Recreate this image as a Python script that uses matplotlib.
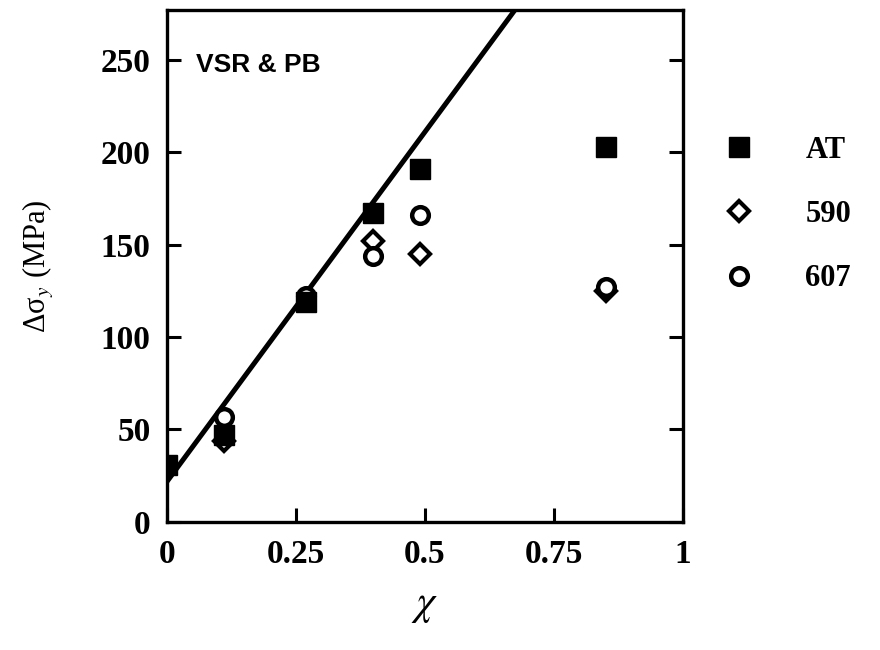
import matplotlib
matplotlib.use("Agg")
import matplotlib.pyplot as plt
import numpy as np

plt.rcParams['font.family'] = ['Liberation Serif', 'DejaVu Serif']
plt.rcParams['mathtext.fontset'] = 'stix'

# data
x_at = [0.0, 0.11, 0.27, 0.40, 0.49, 0.85]
y_at = [31, 47, 119, 167, 191, 203]

x_590 = [0.11, 0.40, 0.49, 0.85]
y_590 = [44, 152, 145, 125]

x_607 = [0.11, 0.27, 0.40, 0.49, 0.85]
y_607 = [57, 122, 144, 166, 127]

fit_intercept = 22
fit_slope = 378

fig = plt.figure(figsize=(8.8, 6.5), dpi=100)
ax = fig.add_axes([0.190, 0.197, 0.586, 0.788])

xx = np.array([0.0, 1.0])
ax.plot(xx, fit_intercept + fit_slope * xx, color='black', lw=3.6, zorder=2)

ax.plot(x_590, y_590, 'D', ms=10, mfc='white', mec='black', mew=3.0, zorder=3, label='590')
ax.plot(x_607, y_607, 'o', ms=12, mfc='white', mec='black', mew=3.2, zorder=4, label='607')
ax.plot(x_at, y_at, 's', ms=15, color='black', zorder=5, label='AT')

ax.set_xlim(0, 1)
ax.set_ylim(0, 277)
ax.set_xticks([0, 0.25, 0.5, 0.75, 1])
ax.set_xticklabels(['0', '0.25', '0.5', '0.75', '1'])
ax.set_yticks([0, 50, 100, 150, 200, 250])

ax.tick_params(direction='in', length=10, width=2.2, labelsize=24, pad=12,
               left=True, right=True, bottom=True, top=False)
for lab in ax.get_xticklabels() + ax.get_yticklabels():
    lab.set_fontweight('bold')
for sp in ax.spines.values():
    sp.set_linewidth(2.4)

ax.set_xlabel(r'$\chi$', fontsize=30, labelpad=12)
ax.set_ylabel('Δσ$_y$ (MPa)', fontsize=22, labelpad=32)

ax.text(0.055, 0.893, 'VSR & PB', transform=ax.transAxes, fontsize=19,
        fontweight='bold', family='Liberation Sans', va='center')

# legend outside on the right
handles, labels = ax.get_legend_handles_labels()
order = [2, 0, 1]
fig.legend([handles[i] for i in order], [labels[i] for i in order],
           loc='upper left', bbox_to_anchor=(0.774, 0.833), frameon=False,
           labelspacing=1.15, handletextpad=1.17, numpoints=1,
           prop={'family': 'Liberation Serif', 'weight': 'bold', 'size': 22})

fig.savefig('out.png', dpi=100)
